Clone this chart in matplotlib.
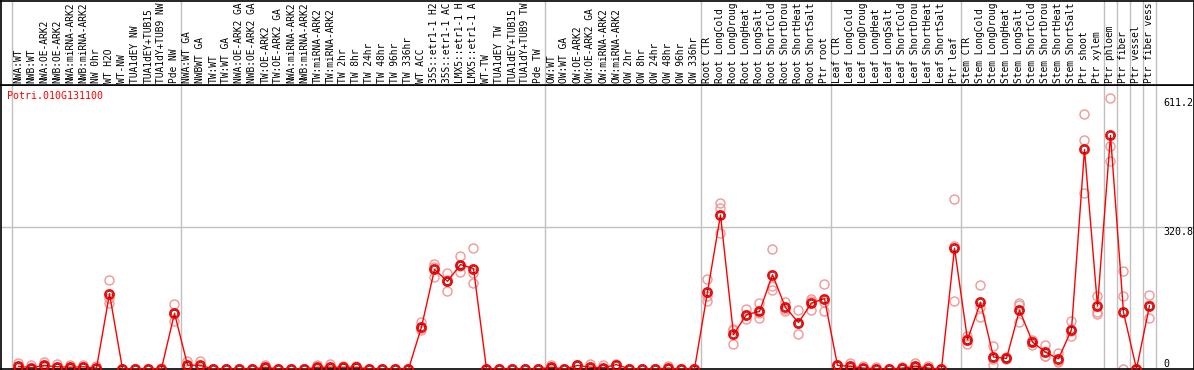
import numpy as np
import matplotlib
matplotlib.use('Agg')
import matplotlib.pyplot as plt
from matplotlib import transforms

# Etiquetas de las muestras (88 columnas, tal como aparecen: max 14 caracteres)
muestras = [
    'NWA:WT', 'NWB:WT', 'NWA:OE-ARK2', 'NWB:OE-ARK2', 'NWA:miRNA-ARK2', 'NWB:miRNA-ARK2',
    'NW 0hr', 'WT H2O', 'WT-NW', 'TUA1dEY NW', 'TUA1dEY+TUB15', 'TUA1dY+TUB9 NW', 'Pde NW',
    'NWA:WT GA', 'NWBWT GA', 'TW:WT', 'TW:WT GA', 'NWA:OE-ARK2 GA', 'NWB:OE-ARK2 GA',
    'TW:OE-ARK2', 'TW:OE-ARK2 GA', 'NWA:miRNA-ARK2', 'NWB:miRNA-ARK2', 'TW:miRNA-ARK2',
    'TW:miRNA-ARK2', 'TW 2hr', 'TW 8hr', 'TW 24hr', 'TW 48hr', 'TW 96hr', 'TW 336hr',
    'WT ACC', '35S::etr1-1 H2', '35S::etr1-1 AC', 'LMX5::etr1-1 H', 'LMX5::etr1-1 A',
    'WT-TW', 'TUA1dEY TW', 'TUA1dEY+TUB15', 'TUA1dY+TUB9 TW', 'Pde TW',
    'OW:WT', 'OW:WT GA', 'OW:OE-ARK2', 'OW:OE-ARK2 GA', 'OW:miRNA-ARK2', 'OW:miRNA-ARK2',
    'OW 2hr', 'OW 8hr', 'OW 24hr', 'OW 48hr', 'OW 96hr', 'OW 336hr',
    'Root CTR', 'Root LongCold', 'Root LongDroug', 'Root LongHeat', 'Root LongSalt',
    'Root ShortCold', 'Root ShortDrou', 'Root ShortHeat', 'Root ShortSalt', 'Ptr root',
    'Leaf CTR', 'Leaf LongCold', 'Leaf LongDroug', 'Leaf LongHeat', 'Leaf LongSalt',
    'Leaf ShortCold', 'Leaf ShortDrou', 'Leaf ShortHeat', 'Leaf ShortSalt', 'Ptr leaf',
    'Stem CTR', 'Stem LongCold', 'Stem LongDroug', 'Stem LongHeat', 'Stem LongSalt',
    'Stem ShortCold', 'Stem ShortDrou', 'Stem ShortHeat', 'Stem ShortSalt',
    'Ptr shoot', 'Ptr xylem', 'Ptr phloem', 'Ptr fiber', 'Ptr vessel', 'Ptr fiber vess',
]

# Promedios de expresion
promedios = [
    6, 3, 8, 5, 4, 5, 2, 170, 0, 0, 0, 1, 126,
    9, 8, 0, 0, 0, 0, 4, 0, 0, 0, 4, 4, 4, 4, 0, 0, 0, 0,
    95, 225, 198, 236, 227, 0, 0, 0, 0, 0,
    4, 0, 8, 4, 3, 10, 0, 0, 0, 2, 0, 0,
    174, 348, 78, 123, 130, 213, 139, 105, 149, 159,
    8, 6, 2, 1, 0, 2, 6, 2, 0, 273,
    66, 151, 27, 24, 133, 61, 38, 23, 89,
    496, 142, 528, 128, 0, 143,
]

# Replicas individuales
replicas = [
    [13, 3, 2], [9, 0, 0], [15, 6, 4], [11, 3, 2], [8, 3, 1], [9, 4, 2], [7, 0, 0],
    [200, 149, 161], [0, 0, 0], [0, 0, 0], [0, 0, 0], [2, 1, 0], [146, 108, 124],
    [17, 6, 4], [18, 4, 2], [0, 0, 0], [0, 0, 0], [0, 0, 0], [0, 0, 0], [10, 2, 0],
    [0, 0, 0], [0, 0, 0], [0, 0, 0], [10, 2, 0], [12, 0, 0], [7, 3, 2], [6, 4, 2],
    [0, 0, 0], [0, 0, 0], [0, 0, 0], [0, 0, 0],
    [106, 87, 92], [238, 207, 231], [218, 176, 200], [256, 219, 233], [273, 216, 195],
    [0, 0, 0], [0, 0, 0], [0, 0, 0], [0, 0, 0], [0, 0, 0],
    [10, 2, 0], [0, 0, 0], [10, 8, 6], [12, 0, 0], [9, 0, 0], [12, 10, 8],
    [0, 0, 0], [0, 0, 0], [0, 0, 0], [7, 0, 0], [0, 0, 0], [0, 0, 0],
    [203, 153, 166], [374, 364, 308], [91, 56, 87], [135, 113, 121], [148, 116, 126],
    [270, 187, 178], [152, 130, 135], [134, 78, 103], [159, 134, 154], [191, 130, 152],
    [10, 8, 6], [14, 3, 1], [7, 0, 0], [5, 0, 0], [0, 0, 0], [4, 2, 0], [14, 3, 1],
    [6, 0, 0], [0, 0, 0], [385, 279, 153],
    [74, 57, 67], [189, 140, 118], [51, 8, 22], [24, 22, 26], [144, 106, 149],
    [65, 54, 64], [55, 29, 30], [36, 16, 17], [108, 74, 85],
    [575, 517, 397], [164, 129, 125], [611.2, 504, 470], [221, 164, 0], [0, 0, 0],
    [168, 116, 145],
]

# Separadores de grupos (entre columnas)
separadores = [-0.5, 12.5, 40.5, 52.5, 62.5, 72.5, 83.5, 84.5, 85.5, 86.5, 87.5]

gen = 'Potri.010G131100'
ymax_etiqueta = 611.2
ymed_etiqueta = 320.8

W, H = 1194, 370
fig = plt.figure(figsize=(W / 100, H / 100), dpi=100)
fuente = dict(family='DejaVu Sans Mono', size=7.2)
fuente_lab = dict(family='DejaVu Sans Mono', size=6.9)

x = np.arange(len(muestras))
xlim = ((0.5 - 18.5) / 13, (1193.5 - 18.5) / 13)

# Ejes del grafico
ax = fig.add_axes([0.5 / W, (H - 369) / H, 1193 / W, 284 / H])
ax.set_xlim(*xlim)
ax.set_ylim(0, 2 * ymed_etiqueta)
ax.set_xticks([])
ax.set_yticks([])
for s in ax.spines.values():
    s.set_color('black')
    s.set_linewidth(1.2)

for sx in separadores:
    ax.axvline(sx, color='#c0c0c0', lw=1, zorder=0)
ax.axhline(ymed_etiqueta, color='#c0c0c0', lw=1, zorder=0)

# Replicas
for i, reps in enumerate(replicas):
    ax.plot([i] * len(reps), reps, 'o', ms=6.5, mfc='none', mec='#f09898', mew=1.0, zorder=2)

# Linea de promedios
ax.plot(x, promedios, color='red', lw=1, zorder=3)
ax.plot(x, promedios, 'o', ms=6.5, mfc='none', mec='red', mew=1.3, zorder=4)
ax.plot(x, promedios, 'o', ms=4.6, mfc='none', mec='#600000', mew=0.5, zorder=5)

ax.text(7 / 1193, 1 - 6 / 284, gen, color='red', ha='left', va='top',
        transform=ax.transAxes, **fuente)

trans_der = transforms.blended_transform_factory(ax.transAxes, ax.transData)
ax.text(1163 / 1193, ymax_etiqueta, f'{ymax_etiqueta}', ha='left', va='top', transform=trans_der, **fuente)
ax.text(1163 / 1193, ymed_etiqueta, f'{ymed_etiqueta}', ha='left', va='top', transform=trans_der, **fuente)
ax.text(1163 / 1193, 0, '0', ha='left', va='bottom', transform=trans_der, **fuente)

# Ejes de las etiquetas
lab = fig.add_axes([0.5 / W, (H - 85) / H, 1193 / W, 84.5 / H])
lab.set_xlim(*xlim)
lab.set_ylim(0, 1)
lab.set_xticks([])
lab.set_yticks([])
for s in lab.spines.values():
    s.set_color('black')
    s.set_linewidth(1.2)
for sx in separadores:
    lab.axvline(sx, color='#c0c0c0', lw=1, zorder=0)

trans_lab = transforms.offset_copy(
    transforms.blended_transform_factory(lab.transData, lab.transAxes),
    fig=fig, x=0, y=2, units='dots')
for i, nombre in enumerate(muestras):
    lab.text(i, 0, nombre, rotation=90, ha='center', va='bottom',
             transform=trans_lab, **fuente_lab)

plt.savefig('out.png', dpi=100)
